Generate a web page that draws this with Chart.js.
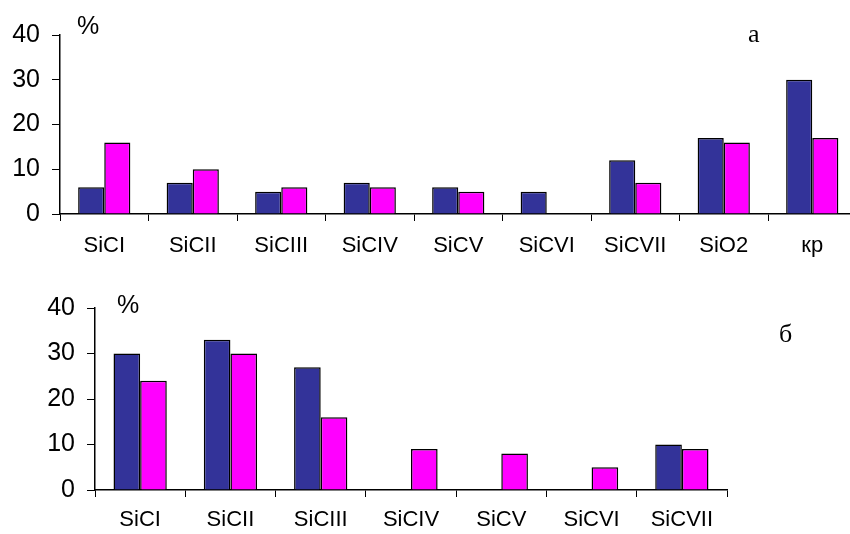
<!DOCTYPE html>
<html>
<head>
<meta charset="utf-8">
<script src="https://cdn.jsdelivr.net/npm/chart.js@4.4.1/dist/chart.umd.min.js"></script>
<style>
  html, body { margin: 0; padding: 0; background: #fff; overflow: hidden; width: 850px; height: 534px; }
  .box { position: absolute; left: 0; }
  .lbl { position: absolute; line-height: 1; color: #000; white-space: nowrap; }
  .pct { font-family: "Liberation Sans", Arial, sans-serif; font-size: 25px; }
  .tag { font-family: "Liberation Serif", "Times New Roman", serif; font-size: 26px; }
</style>
</head>
<body>
<div class="box" style="top:0; width:860px; height:265px;"><canvas id="chartA" width="860" height="265"></canvas></div>
<div class="box" style="top:265px; width:850px; height:269px;"><canvas id="chartB" width="850" height="269"></canvas></div>
<div class="lbl pct" style="left:77px; top:13px;">%</div>
<div class="lbl tag" style="left:748px; top:21px;">а</div>
<div class="lbl pct" style="left:117px; top:292px;">%</div>
<div class="lbl tag" style="left:779px; top:321px;">б</div>
<script>
document.addEventListener("DOMContentLoaded", function() {
    // Data (top chart "а")
    const catsA = ["SiCI", "SiCII", "SiCIII", "SiCIV", "SiCV", "SiCVI", "SiCVII", "SiO2", "кр"];
    const blueA = [6, 7, 5, 7, 6, 5, 12, 17, 30];
    const pinkA = [16, 10, 6, 6, 5, null, 7, 16, 17];

    // Data (bottom chart "б")
    const catsB = ["SiCI", "SiCII", "SiCIII", "SiCIV", "SiCV", "SiCVI", "SiCVII"];
    const blueB = [30, 33, 27, null, null, null, 10];
    const pinkB = [24, 30, 16, 9, 8, 5, 9];

    const yTicks = [0, 10, 20, 30, 40];

    const BLUE = "#333399";
    const PINK = "#FF00FF";
    const SANS = "'Liberation Sans', Arial, sans-serif";

    function makeChart(id, labels, blue, pink, opts) {
        const ctx = document.getElementById(id).getContext("2d");
        return new Chart(ctx, {
            type: "bar",
            data: {
                labels: labels,
                datasets: [
                    {
                        data: blue,
                        backgroundColor: BLUE,
                        borderColor: "#000",
                        borderWidth: 1.5,
                        borderSkipped: "bottom",
                        categoryPercentage: 0.59,
                        barPercentage: 1.0
                    },
                    {
                        data: pink,
                        backgroundColor: PINK,
                        borderColor: "#000",
                        borderWidth: 1.5,
                        borderSkipped: "bottom",
                        categoryPercentage: 0.59,
                        barPercentage: 1.0
                    }
                ]
            },
            options: {
                responsive: false,
                animation: false,
                devicePixelRatio: 1,
                layout: {
                    padding: { top: opts.top, right: opts.right, left: 0, bottom: 0 }
                },
                plugins: {
                    legend: { display: false },
                    tooltip: { enabled: false }
                },
                scales: {
                    x: {
                        offset: true,
                        grid: {
                            offset: true,
                            drawOnChartArea: false,
                            tickLength: 7,
                            color: "#000"
                        },
                        border: { color: "#000", width: 1.5 },
                        ticks: {
                            color: "#000",
                            padding: opts.xPad,
                            maxRotation: 0,
                            autoSkip: false,
                            font: { family: SANS, size: 22 }
                        },
                        afterFit: function(scale) { scale.height = opts.xHeight; }
                    },
                    y: {
                        min: 0,
                        max: 40,
                        afterBuildTicks: function(scale) {
                            scale.ticks = yTicks.map(v => ({ value: v }));
                        },
                        grid: {
                            drawOnChartArea: false,
                            tickLength: 8,
                            color: "#000"
                        },
                        border: { color: "#000", width: 1.5 },
                        ticks: {
                            color: "#000",
                            padding: 12,
                            font: { family: SANS, size: 25 }
                        },
                        afterFit: function(scale) { scale.width = opts.yWidth; }
                    }
                }
            }
        });
    }

    makeChart("chartA", catsA, blueA, pinkA, { top: 35, right: 3.5, yWidth: 60, xHeight: 51, xPad: 12 });
    makeChart("chartB", catsB, blueB, pinkB, { top: 43, right: 123, yWidth: 95, xHeight: 44, xPad: 10 });
});
</script>
</body>
</html>
